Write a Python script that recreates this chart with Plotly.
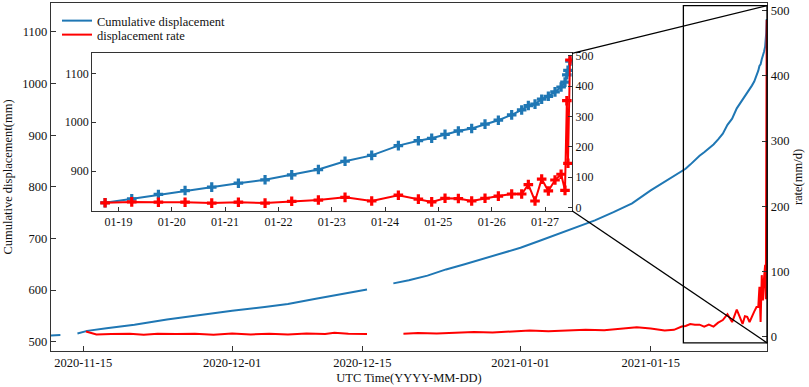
import plotly.graph_objects as go
from datetime import datetime

# ---------------- data ----------------
# main series before the zoomed window (None marks a data gap)
disp_dates_early = [
    "2020-11-11 12:00", "2020-11-12 13:00", "2020-11-13 12:00", "2020-11-14 09:00",
    "2020-11-15 10:00", "2020-11-17 12:00", "2020-11-20 12:00", "2020-11-24 00:00",
    "2020-11-27 12:00", "2020-12-01 00:00", "2020-12-04 12:00", "2020-12-07 00:00",
    "2020-12-10 00:00", "2020-12-12 00:00", "2020-12-15 12:00", "2020-12-17 00:00",
    "2020-12-18 08:00", "2020-12-20 00:00", "2020-12-22 00:00", "2020-12-24 00:00",
    "2020-12-26 00:00", "2020-12-28 00:00", "2020-12-30 00:00", "2021-01-01 00:00",
    "2021-01-03 00:00", "2021-01-05 00:00", "2021-01-07 00:00", "2021-01-09 00:00",
    "2021-01-11 00:00", "2021-01-13 00:00", "2021-01-15 00:00", "2021-01-17 00:00",
    "2021-01-18 06:00",
]
disp_early = [
    512, 513, None, 516,
    521, 526, 533, 543,
    552, 560, 567, 573,
    583, 590, 601, None,
    613, 619, 628, 640,
    650, 661, 671, 682,
    695, 708, 722, 735,
    751, 768, 793, 815,
    830,
]
rate_dates_early = [
    "2020-11-15 07:00", "2020-11-16 10:00", "2020-11-18 00:00", "2020-11-20 00:00",
    "2020-11-21 12:00", "2020-11-23 00:00", "2020-11-25 00:00", "2020-11-27 00:00",
    "2020-11-29 00:00", "2020-12-01 00:00", "2020-12-03 00:00", "2020-12-05 00:00",
    "2020-12-07 00:00", "2020-12-09 00:00", "2020-12-11 00:00", "2020-12-12 00:00",
    "2020-12-13 12:00", "2020-12-15 12:00", "2020-12-17 12:00", "2020-12-19 10:00",
    "2020-12-21 00:00", "2020-12-23 00:00", "2020-12-25 00:00", "2020-12-27 00:00",
    "2020-12-29 00:00", "2020-12-31 00:00", "2021-01-02 00:00", "2021-01-04 00:00",
    "2021-01-06 00:00", "2021-01-08 00:00", "2021-01-10 00:00", "2021-01-12 00:00",
    "2021-01-13 12:00", "2021-01-15 00:00", "2021-01-16 12:00", "2021-01-17 12:00",
    "2021-01-18 08:00",
]
rate_early = [
    7.5, 3, 3.5, 4,
    2.5, 4, 3.5, 4,
    2.5, 4.5, 3, 4,
    3, 4.5, 3.5, 5.5,
    4, 3.5, None, 4,
    5, 4.5, 6, 6.5,
    6, 7.5, 9, 8,
    9, 10, 9.5, 12,
    14, 12, 9, 10,
    15,
]

# zoomed window (inset) observations
inset_dates = [
    "2021-01-18 18:00", "2021-01-19 06:00", "2021-01-19 18:00", "2021-01-20 06:00",
    "2021-01-20 18:00", "2021-01-21 06:00", "2021-01-21 18:00", "2021-01-22 06:00",
    "2021-01-22 18:00", "2021-01-23 06:00", "2021-01-23 18:00", "2021-01-24 06:00",
    "2021-01-24 15:00", "2021-01-24 21:00", "2021-01-25 03:00", "2021-01-25 09:00",
    "2021-01-25 15:00", "2021-01-25 21:00", "2021-01-26 03:00", "2021-01-26 09:00",
    "2021-01-26 13:30", "2021-01-26 16:30", "2021-01-26 19:30", "2021-01-26 22:30",
    "2021-01-27 01:30", "2021-01-27 04:30", "2021-01-27 07:15", "2021-01-27 09:00",
    "2021-01-27 09:50", "2021-01-27 10:20", "2021-01-27 11:15",
]
inset_disp = [
    835, 843, 852, 860, 867, 875, 882, 892, 903, 920, 932, 952,
    962, 967, 975, 982, 987, 996, 1004, 1015, 1025, 1034, 1037, 1047,
    1053, 1062, 1072, 1082, 1097, 1106, 1125,
]
inset_rate = [
    16, 19, 18, 18, 15, 18, 15, 21, 25, 34, 22, 41,
    28, 19, 31, 30, 22, 31, 38, 45, 45, 76, 22, 94,
    55, 91, 110, 57, 352, 146, 486,
]

main_xticks = ["2020-11-15", "2020-12-01", "2020-12-15", "2021-01-01", "2021-01-15"]
main_xticktext = ["2020-11-15", "2020-12-01", "2020-12-15", "2021-01-01", "2021-01-15"]
inset_xticks = ["2021-01-%02d" % d for d in range(19, 28)]
inset_xticktext = ["01-%02d" % d for d in range(19, 28)]

# axis ranges
main_xrange = ["2020-11-11 12:45", "2021-01-27 12:00"]
main_yrange = [482, 1156]
main_y2range = [-22.5, 512]
inset_xrange = ["2021-01-18 12:15", "2021-01-27 12:09"]
inset_yrange = [818.7, 1141]
inset_y2range = [-10, 508]

BLUE = "#1f77b4"
RED = "#ff0000"
FONT = "Liberation Serif, Times New Roman, DejaVu Serif, serif"
AX = "#333333"

# ---------------- figure ----------------
fig = go.Figure()
fig.add_trace(go.Scatter(x=disp_dates_early + inset_dates, y=disp_early + inset_disp,
                         mode="lines", line=dict(color=BLUE, width=2),
                         name="Cumulative displacement", xaxis="x", yaxis="y",
                         connectgaps=False, legend="legend"))
fig.add_trace(go.Scatter(x=rate_dates_early + inset_dates, y=rate_early + inset_rate,
                         mode="lines", line=dict(color=RED, width=2),
                         name="displacement rate", xaxis="x", yaxis="y2",
                         connectgaps=False, legend="legend2"))
fig.add_trace(go.Scatter(x=inset_dates, y=inset_disp, mode="lines+markers",
                         line=dict(color=BLUE, width=2),
                         marker=dict(symbol="cross", size=8, color=BLUE),
                         xaxis="x2", yaxis="y3", showlegend=False))
fig.add_trace(go.Scatter(x=inset_dates, y=inset_rate, mode="lines+markers",
                         line=dict(color=RED, width=2),
                         marker=dict(symbol="cross", size=8, color=RED),
                         xaxis="x2", yaxis="y4", showlegend=False))

W, H = 809, 387
ML, MR, MT, MB = 51, 42, 3, 36
pw, ph = W - ML - MR, H - MT - MB

def px_to_paper_x(px):
    return (px - ML) / pw

def px_to_paper_y(py):
    return (H - MB - py) / ph

inset_dom_x = [px_to_paper_x(92.3), px_to_paper_x(572)]
inset_dom_y = [px_to_paper_y(210.7), px_to_paper_y(53.3)]

tickfont = dict(family=FONT, size=12.5, color="#111")
inset_tickfont = dict(family=FONT, size=12, color="#111")

common = dict(showline=True, linecolor=AX, linewidth=1.3, ticks="inside",
              tickcolor=AX, showgrid=False, zeroline=False, automargin=False)

fig.update_layout(
    width=W, height=H,
    margin=dict(l=ML, r=MR, t=MT, b=MB, autoexpand=False),
    paper_bgcolor="white", plot_bgcolor="white",
    font=dict(family=FONT, size=12.5, color="#111"),
    xaxis=dict(domain=[0, 1], range=main_xrange, type="date", anchor="y",
               tickvals=main_xticks, ticktext=main_xticktext, ticklen=5,
               mirror=True, tickfont=tickfont,
               title=dict(text="UTC Time(YYYY-MM-DD)", font=dict(family=FONT, size=12.5),
                          standoff=4), **common),
    yaxis=dict(range=main_yrange, anchor="x", side="left", ticklen=5,
               tickvals=[500, 600, 700, 800, 900, 1000, 1100], tickfont=tickfont,
               title=dict(text="Cumulative displacement(mm)", font=dict(family=FONT, size=12.5),
                          standoff=6), **common),
    yaxis2=dict(range=main_y2range, anchor="x", overlaying="y", side="right", ticklen=5,
                tickvals=[0, 100, 200, 300, 400, 500], tickfont=tickfont,
                title=dict(text="rate(mm/d)", font=dict(family=FONT, size=12.5), standoff=4),
                **common),
    xaxis2=dict(domain=inset_dom_x, range=inset_xrange, type="date", anchor="y3",
                tickvals=inset_xticks, ticktext=inset_xticktext, ticklen=4,
                mirror=True, tickfont=inset_tickfont, **common),
    yaxis3=dict(domain=inset_dom_y, range=inset_yrange, anchor="x2", side="left", ticklen=4,
                tickvals=[900, 1000, 1100], tickfont=inset_tickfont, **common),
    yaxis4=dict(range=inset_y2range, anchor="x2", overlaying="y3", side="right", ticklen=4,
                tickvals=[0, 100, 200, 300, 400, 500], tickfont=inset_tickfont, **common),
    legend=dict(x=px_to_paper_x(57), y=px_to_paper_y(6), xanchor="left", yanchor="top",
                bgcolor="rgba(0,0,0,0)", font=dict(family=FONT, size=12.5),
                itemwidth=30),
    legend2=dict(x=px_to_paper_x(57), y=px_to_paper_y(20), xanchor="left", yanchor="top",
                 bgcolor="rgba(0,0,0,0)", font=dict(family=FONT, size=12.5),
                 itemwidth=30),
)

# zoom box on the main chart and the connector lines to the inset
def date_frac(s, rng):
    fmt = "%Y-%m-%d %H:%M"
    t = datetime.strptime(s, fmt)
    a = datetime.strptime(rng[0], fmt)
    b = datetime.strptime(rng[1], fmt)
    return (t - a).total_seconds() / (b - a).total_seconds()

box_x0 = date_frac(inset_xrange[0], main_xrange)
box_x1 = min(1.0, date_frac(inset_xrange[1], main_xrange))
box_y0 = (inset_y2range[0] - main_y2range[0]) / (main_y2range[1] - main_y2range[0])
box_y1 = (inset_y2range[1] - main_y2range[0]) / (main_y2range[1] - main_y2range[0])

fig.add_shape(type="rect", xref="paper", yref="paper",
              x0=box_x0, x1=box_x1, y0=box_y0, y1=box_y1,
              line=dict(color="black", width=1.3))
fig.add_shape(type="line", xref="paper", yref="paper",
              x0=inset_dom_x[1], y0=inset_dom_y[1], x1=box_x1, y1=box_y1,
              line=dict(color="black", width=1.3))
fig.add_shape(type="line", xref="paper", yref="paper",
              x0=inset_dom_x[1], y0=inset_dom_y[0], x1=box_x1, y1=box_y0,
              line=dict(color="black", width=1.3))

fig.write_html("out.html", config={"displayModeBar": False},
               post_script="document.body.style.margin='0';")
